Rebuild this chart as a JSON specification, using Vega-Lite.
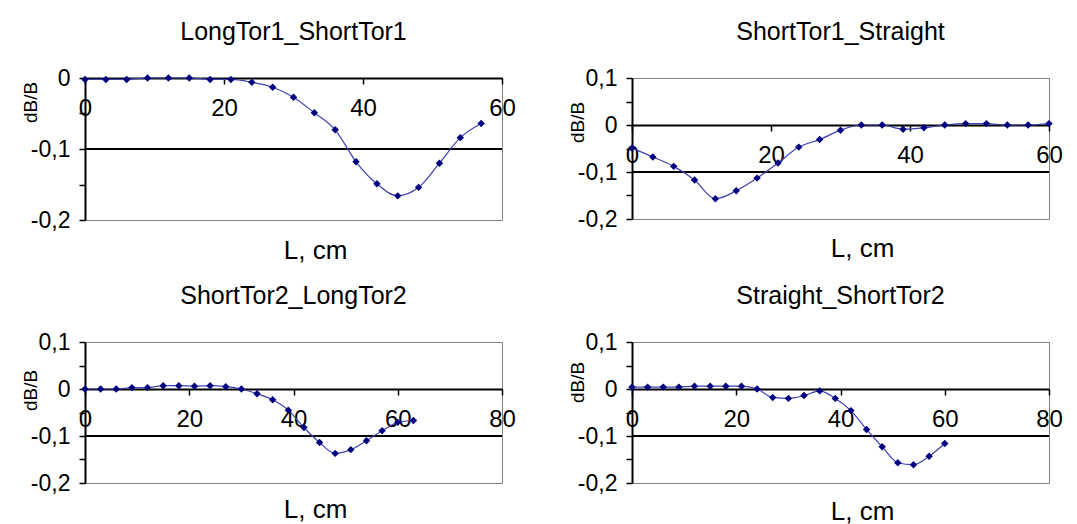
{
  "$schema": "https://vega.github.io/schema/vega-lite/v6.json",
  "background": "white",
  "padding": {"left": 20, "top": 19, "right": 5, "bottom": 0},
  "datasets": {
    "p1": [
      {"L": 0, "dB": -0.002}, {"L": 3, "dB": -0.002}, {"L": 6, "dB": -0.002}, {"L": 9, "dB": 0.0},
      {"L": 12, "dB": 0.0}, {"L": 15, "dB": 0.0}, {"L": 18, "dB": -0.002}, {"L": 21, "dB": -0.002},
      {"L": 24, "dB": -0.006}, {"L": 27, "dB": -0.013}, {"L": 30, "dB": -0.027}, {"L": 33, "dB": -0.049},
      {"L": 36, "dB": -0.073}, {"L": 39, "dB": -0.118}, {"L": 42, "dB": -0.149}, {"L": 45, "dB": -0.166},
      {"L": 48, "dB": -0.154}, {"L": 51, "dB": -0.120}, {"L": 54, "dB": -0.084}, {"L": 57, "dB": -0.064}
    ],
    "p2": [
      {"L": 0, "dB": -0.049}, {"L": 3, "dB": -0.068}, {"L": 6, "dB": -0.088}, {"L": 9, "dB": -0.117},
      {"L": 12, "dB": -0.157}, {"L": 15, "dB": -0.140}, {"L": 18, "dB": -0.113}, {"L": 21, "dB": -0.081},
      {"L": 24, "dB": -0.047}, {"L": 27, "dB": -0.031}, {"L": 30, "dB": -0.011}, {"L": 33, "dB": 0.0},
      {"L": 36, "dB": 0.0}, {"L": 39, "dB": -0.009}, {"L": 42, "dB": -0.006}, {"L": 45, "dB": 0.0},
      {"L": 48, "dB": 0.003}, {"L": 51, "dB": 0.003}, {"L": 54, "dB": 0.0}, {"L": 57, "dB": 0.0},
      {"L": 60, "dB": 0.003}
    ],
    "p3": [
      {"L": 0, "dB": 0.0}, {"L": 3, "dB": 0.0}, {"L": 6, "dB": 0.0}, {"L": 9, "dB": 0.003},
      {"L": 12, "dB": 0.003}, {"L": 15, "dB": 0.007}, {"L": 18, "dB": 0.007}, {"L": 21, "dB": 0.006},
      {"L": 24, "dB": 0.007}, {"L": 27, "dB": 0.005}, {"L": 30, "dB": 0.0}, {"L": 33, "dB": -0.010},
      {"L": 36, "dB": -0.023}, {"L": 39, "dB": -0.045}, {"L": 42, "dB": -0.082}, {"L": 45, "dB": -0.114},
      {"L": 48, "dB": -0.137}, {"L": 51, "dB": -0.129}, {"L": 54, "dB": -0.110}, {"L": 57, "dB": -0.089},
      {"L": 60, "dB": -0.071}, {"L": 63, "dB": -0.067}
    ],
    "p4": [
      {"L": 0, "dB": 0.004}, {"L": 3, "dB": 0.004}, {"L": 6, "dB": 0.004}, {"L": 9, "dB": 0.004},
      {"L": 12, "dB": 0.006}, {"L": 15, "dB": 0.006}, {"L": 18, "dB": 0.006}, {"L": 21, "dB": 0.006},
      {"L": 24, "dB": 0.0}, {"L": 27, "dB": -0.018}, {"L": 30, "dB": -0.020}, {"L": 33, "dB": -0.014},
      {"L": 36, "dB": -0.004}, {"L": 39, "dB": -0.020}, {"L": 42, "dB": -0.046}, {"L": 45, "dB": -0.086},
      {"L": 48, "dB": -0.123}, {"L": 51, "dB": -0.157}, {"L": 54, "dB": -0.161}, {"L": 57, "dB": -0.143},
      {"L": 60, "dB": -0.116}
    ]
  },
  "columns": 2,
  "spacing": {"column": 51, "row": 19},
  "concat": [
    {
      "title": {"text": "LongTor1_ShortTor1"},
      "width": 417, "height": 142,
      "data": {"name": "p1"},
      "encoding": {
        "x": {"field": "L", "type": "quantitative", "scale": {"domain": [0, 60], "nice": false},
              "axis": {"values": [0, 20, 40, 60], "offset": -142, "title": "L, cm", "titleX": 230, "titleY": 180}},
        "y": {"field": "dB", "type": "quantitative", "scale": {"domain": [-0.2, 0], "nice": false},
              "axis": {"values": [-0.2, -0.15, -0.1, -0.05, 0], "title": "dB/B", "titleX": -45, "titleY": 24}}
      },
      "layer": [
        {"mark": {"type": "rule", "color": "black", "strokeWidth": 2}, "encoding": {"y": {"datum": -0.1}, "x": {"value": 0}, "x2": {"value": 417}}},
        {"mark": {"type": "line", "interpolate": "monotone", "color": "#4040b0", "strokeWidth": 1.2}},
        {"mark": {"type": "point", "shape": "diamond", "filled": true, "size": 55, "color": "#000080", "opacity": 1}}
      ]
    },
    {
      "title": {"text": "ShortTor1_Straight"},
      "width": 417, "height": 141,
      "data": {"name": "p2"},
      "encoding": {
        "x": {"field": "L", "type": "quantitative", "scale": {"domain": [0, 60], "nice": false},
              "axis": {"values": [0, 20, 40, 60], "offset": -94, "title": "L, cm", "titleX": 230, "titleY": 131}},
        "y": {"field": "dB", "type": "quantitative", "scale": {"domain": [-0.2, 0.1], "nice": false},
              "axis": {"values": [-0.2, -0.15, -0.1, -0.05, 0, 0.05, 0.1], "title": "dB/B", "titleX": -45, "titleY": 44}}
      },
      "layer": [
        {"mark": {"type": "rule", "color": "black", "strokeWidth": 2}, "encoding": {"y": {"datum": -0.1}, "x": {"value": 0}, "x2": {"value": 417}}},
        {"mark": {"type": "line", "interpolate": "monotone", "color": "#4040b0", "strokeWidth": 1.2}},
        {"mark": {"type": "point", "shape": "diamond", "filled": true, "size": 55, "color": "#000080", "opacity": 1}}
      ]
    },
    {
      "title": {"text": "ShortTor2_LongTor2"},
      "width": 417, "height": 141,
      "data": {"name": "p3"},
      "encoding": {
        "x": {"field": "L", "type": "quantitative", "scale": {"domain": [0, 80], "nice": false},
              "axis": {"values": [0, 20, 40, 60, 80], "offset": -94, "title": "L, cm", "titleX": 230, "titleY": 128}},
        "y": {"field": "dB", "type": "quantitative", "scale": {"domain": [-0.2, 0.1], "nice": false},
              "axis": {"values": [-0.2, -0.15, -0.1, -0.05, 0, 0.05, 0.1], "title": "dB/B", "titleX": -45, "titleY": 48}}
      },
      "layer": [
        {"mark": {"type": "rule", "color": "black", "strokeWidth": 2}, "encoding": {"y": {"datum": -0.1}, "x": {"value": 0}, "x2": {"value": 417}}},
        {"mark": {"type": "line", "interpolate": "monotone", "color": "#4040b0", "strokeWidth": 1.2}},
        {"mark": {"type": "point", "shape": "diamond", "filled": true, "size": 55, "color": "#000080", "opacity": 1}}
      ]
    },
    {
      "title": {"text": "Straight_ShortTor2"},
      "width": 417, "height": 141,
      "data": {"name": "p4"},
      "encoding": {
        "x": {"field": "L", "type": "quantitative", "scale": {"domain": [0, 80], "nice": false},
              "axis": {"values": [0, 20, 40, 60, 80], "offset": -94, "title": "L, cm", "titleX": 230, "titleY": 130}},
        "y": {"field": "dB", "type": "quantitative", "scale": {"domain": [-0.2, 0.1], "nice": false},
              "axis": {"values": [-0.2, -0.15, -0.1, -0.05, 0, 0.05, 0.1], "title": "dB/B", "titleX": -45, "titleY": 40}}
      },
      "layer": [
        {"mark": {"type": "rule", "color": "black", "strokeWidth": 2}, "encoding": {"y": {"datum": -0.1}, "x": {"value": 0}, "x2": {"value": 417}}},
        {"mark": {"type": "line", "interpolate": "monotone", "color": "#4040b0", "strokeWidth": 1.2}},
        {"mark": {"type": "point", "shape": "diamond", "filled": true, "size": 55, "color": "#000080", "opacity": 1}}
      ]
    }
  ],
  "config": {
    "font": "Liberation Sans",
    "view": {"stroke": "#808080", "strokeWidth": 1},
    "title": {"fontSize": 25, "fontWeight": "normal", "color": "black", "font": "Liberation Sans", "offset": 22, "anchor": "middle"},
    "axis": {
      "grid": false,
      "domainColor": "black", "domainWidth": 2,
      "tickColor": "black", "tickWidth": 1.5, "tickSize": 6,
      "labelColor": "black", "titleColor": "black",
      "labelFont": "Liberation Sans", "titleFont": "Liberation Sans",
      "titleFontWeight": "normal"
    },
    "axisX": {"labelFontSize": 24, "labelPadding": 12, "titleFontSize": 26, "titleAlign": "center", "titleBaseline": "alphabetic", "labelFlush": false, "labelOverlap": false},
    "axisY": {"labelFontSize": 23, "labelPadding": 9, "titleFontSize": 19, "titleAngle": -90, "titleAlign": "center", "titleBaseline": "bottom",
              "labelExpr": "abs(round(datum.value*20)) % 2 == 0 ? (datum.value == 0 ? '0' : (datum.value < 0 ? '-' : '') + replace(format(abs(datum.value), '.1f'), '.', ',')) : ''"}
  }
}
